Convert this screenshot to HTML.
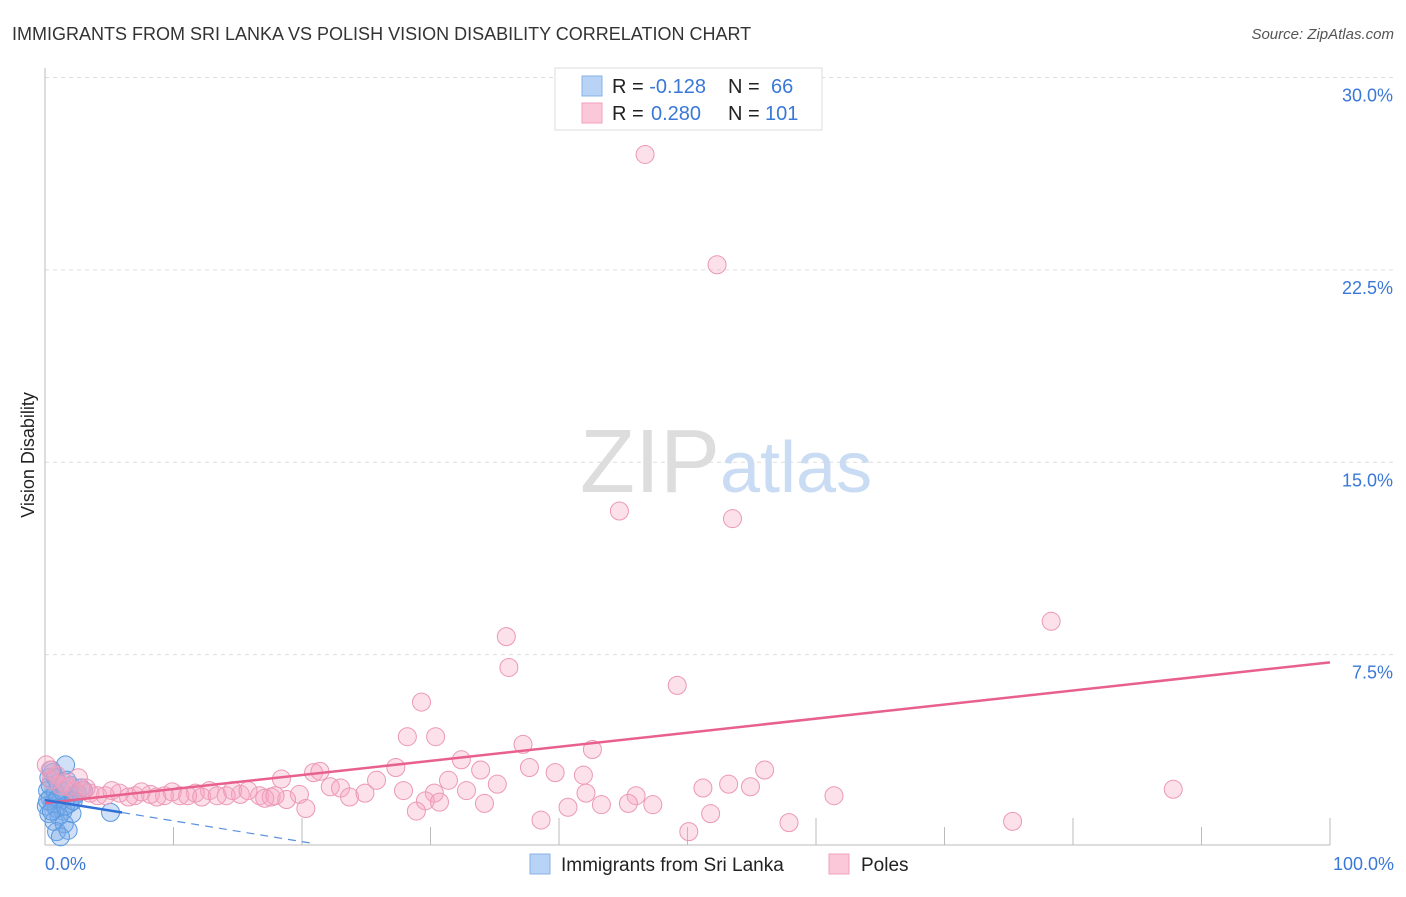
<!DOCTYPE html>
<html><head><meta charset="utf-8"><style>
body{margin:0;background:#fff;font-family:"Liberation Sans",sans-serif;}
svg text{font-family:"Liberation Sans",sans-serif;}
</style></head><body>
<svg id="chart" width="1406" height="892">
<text x="12" y="40" font-size="18" fill="#333">IMMIGRANTS FROM SRI LANKA VS POLISH VISION DISABILITY CORRELATION CHART</text>
<text x="1394" y="39" font-size="15" fill="#555" font-style="italic" text-anchor="end">Source: ZipAtlas.com</text>
<text x="34" y="455" font-size="18" fill="#222" transform="rotate(-90 34 455)" text-anchor="middle">Vision Disability</text>
<g id="grid"></g>
<text x="720" y="492" font-size="90" fill="#ddd" text-anchor="end" font-family="Liberation Serif">ZIP</text>
<text x="720" y="492" font-size="72" fill="#c9dcf3">atlas</text>
<g id="axes"></g>
<g id="blue"></g>
<g id="pink"></g>
<g id="trend"></g>
<g>
<rect x="555" y="68" width="267" height="62" fill="#fff" stroke="#ddd"/>
<rect x="582" y="76" width="20" height="20" fill="#b8d3f5" stroke="#88b2e8"/>
<rect x="582" y="103" width="20" height="20" fill="#fac8d8" stroke="#f0a0bc"/>
<text x="612" y="93" font-size="20" fill="#222">R = <tspan fill="#3a78d8">-0.128</tspan><tspan x="728">N = </tspan><tspan x="771" fill="#3a78d8">66</tspan></text>
<text x="612" y="120" font-size="20" fill="#222">R = <tspan x="651" fill="#3a78d8">0.280</tspan><tspan x="728">N = </tspan><tspan x="765" fill="#3a78d8">101</tspan></text>
</g>
<g>
<rect x="530" y="854" width="20" height="20" fill="#b8d3f5" stroke="#88b2e8"/>
<text x="561" y="871" font-size="19" fill="#222">Immigrants from Sri Lanka</text>
<rect x="829" y="854" width="20" height="20" fill="#fac8d8" stroke="#f0a0bc"/>
<text x="861" y="871" font-size="19" fill="#222">Poles</text>
</g>
</svg>
<script>
const yTicks=[7.5,15,22.5,30];
const yTickLabels=["7.5%","15.0%","22.5%","30.0%"];
const xTickLabels=["0.0%","100.0%"];
const poleX=[46.7,52.3,44.7,53.5,78.3,35.9,36.1,49.2,29.3,28.2,30.4,37.2,42.6,32.4,27.3,56.0,37.7,39.7,41.9,33.9,53.2,54.9,51.2,87.8,61.4,46.0,42.1,31.4,35.2,32.8,27.9,30.3,29.6,34.2,30.7,40.7,43.3,45.4,47.3,51.8,28.9,38.6,75.3,57.9,50.1,25.8,20.9,21.4,18.4,22.2,23.0,23.7,24.9,19.8,18.8,20.3,16.7,17.6,15.2,14.1,12.8,11.7,10.5,9.3,8.2,7.0,5.8,4.7,3.5,2.3,1.2,0.4,0.5,1.8,2.9,4.1,5.2,6.5,7.5,8.7,9.9,11.1,12.2,13.4,14.6,15.8,17.1,17.9,0.9,0.1,1.5,2.6,3.2];
const poleY=[27.0,22.7,13.1,12.8,8.8,8.2,7.0,6.3,5.65,4.3,4.3,4.0,3.8,3.4,3.1,3.0,3.1,2.9,2.8,3.0,2.45,2.35,2.3,2.25,2.0,2.0,2.1,2.6,2.45,2.2,2.2,2.1,1.8,1.7,1.75,1.55,1.65,1.7,1.65,1.3,1.4,1.05,1.0,0.95,0.6,2.6,2.9,2.95,2.65,2.35,2.3,1.95,2.1,2.05,1.85,1.5,2.0,1.95,2.05,2.0,2.2,2.1,2.0,2.0,2.05,2.0,2.1,2.0,2.1,2.2,2.4,3.0,2.6,2.35,2.2,2.0,2.2,1.95,2.15,1.95,2.15,2.0,1.95,2.0,2.2,2.2,1.9,2.0,2.8,3.2,2.5,2.7,2.3];
const lankaX=[0.5,1.6,0.3,1.0,2.0,2.8,0.2,0.8,1.5,2.3,0.4,1.2,0.6,1.9,0.1,0.9,1.4,0.3,2.1,1.1,0.7,1.5,0.9,1.8,1.2,0.4,1.7,2.5,0.6,1.3,0.2,1.0,3.0,0.5,1.6,5.1,2.2,0.8];
const lankaY=[3.0,3.2,2.7,2.5,2.4,2.3,2.2,2.1,2.0,2.0,1.9,1.8,1.7,1.7,1.6,1.5,1.4,1.3,1.3,1.2,1.0,0.9,0.6,0.65,0.4,2.4,2.6,2.1,2.9,2.2,1.8,1.9,2.2,1.4,1.6,1.35,1.8,2.7];
const poleTrend=[1.71,7.2];
const lankaTrend=[1.83,0.16];
const NS="http://www.w3.org/2000/svg";
const X=v=>45+v*12.85, Y=v=>847-v*25.65;
function mk(t,a,p){const e=document.createElementNS(NS,t);for(const k in a)e.setAttribute(k,a[k]);document.getElementById(p).appendChild(e);return e;}
yTicks.forEach((t,i)=>{
 const l=mk('line',{x1:45,x2:1394,y1:Y(t),y2:Y(t),stroke:'#ddd','stroke-dasharray':'4,4'},'grid');
 
 
 const tx=mk('text',{x:1393,y:Y(t)+24,'font-size':18,fill:'#3a78d8','text-anchor':'end'},'axes');tx.textContent=yTickLabels[i];
 
 
});
const ax=mk('line',{x1:45,x2:1330,y1:845,y2:845,stroke:'#bbb'},'axes');


const ay=mk('line',{x1:45,x2:45,y1:68,y2:845,stroke:'#bbb'},'axes');


for(let i=1;i<=10;i++){const tk=mk('line',{x1:45+i*128.5,x2:45+i*128.5,y1:i%2?827:818,y2:845,stroke:'#bbb'},'axes');
 
 }
[[0,'start',45],[1,'end',1394]].forEach(([i,a,x])=>{const t=mk('text',{x:x,y:870,'font-size':18,fill:'#3a78d8','text-anchor':a},'axes');t.textContent=xTickLabels[i];
 
 });
lankaX.forEach((v,i)=>{const c=mk('circle',{cx:X(v),cy:Y(lankaY[i]),r:9,fill:'rgba(120,170,232,0.35)',stroke:'#5a9ae0','stroke-width':1},'blue');
 
 });
poleX.forEach((v,i)=>{const c=mk('circle',{cx:X(v),cy:Y(poleY[i]),r:9,fill:'rgba(246,165,195,0.35)',stroke:'#ec98b6','stroke-width':1},'pink');
 
 });
const pt=mk('line',{x1:X(0),y1:Y(poleTrend[0]),x2:X(100),y2:Y(poleTrend[1]),stroke:'#e8608c','stroke-width':2.5},'trend');


const slope=(lankaTrend[1]-lankaTrend[0])/20.6;
const bs=mk('line',{x1:X(0),y1:Y(lankaTrend[0]),x2:X(6),y2:Y(lankaTrend[0]+slope*6),stroke:'#2f6fd6','stroke-width':2.5},'trend');


const bd=mk('line',{x1:X(6),y1:Y(lankaTrend[0]+slope*6),x2:X(20.6),y2:Y(lankaTrend[1]),stroke:'#5a8ee0','stroke-width':1.2,'stroke-dasharray':'8,6'},'trend');


</script>
</body></html>
